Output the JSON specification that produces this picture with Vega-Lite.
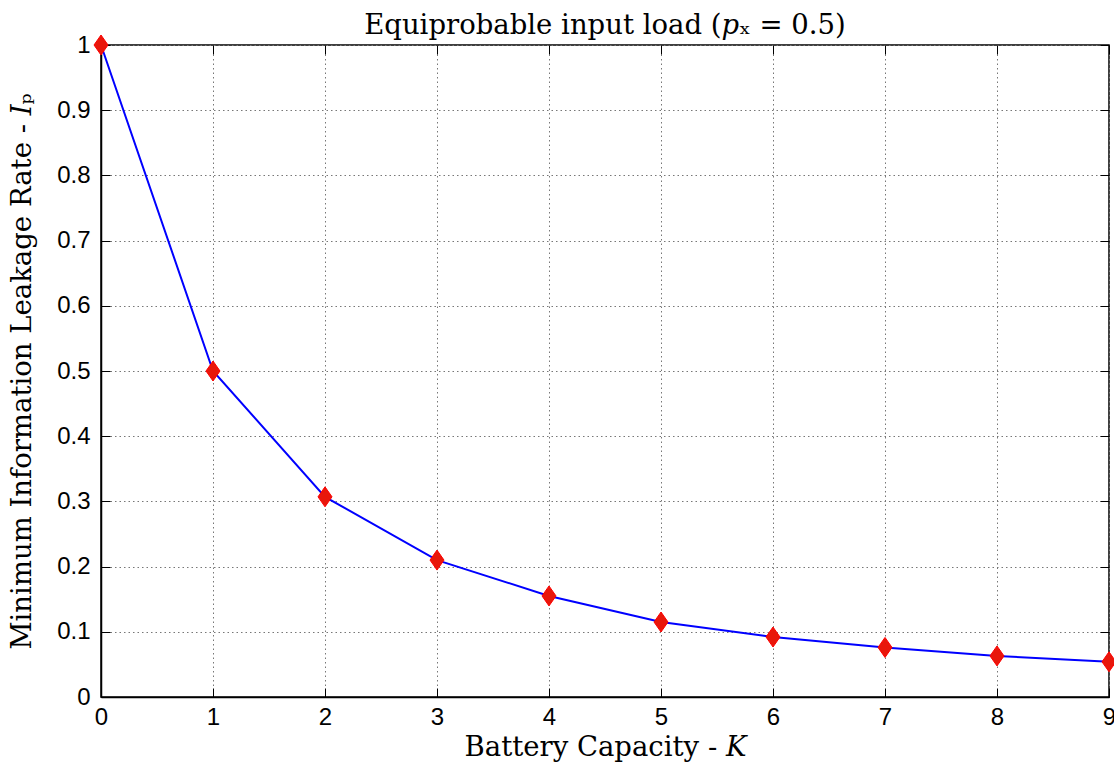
{
  "$schema": "https://vega.github.io/schema/vega-lite/v6.json",
  "autosize": "none",
  "width": 1008,
  "height": 652,
  "padding": {"left": 101, "top": 45, "right": 5, "bottom": 72},
  "background": "white",
  "title": {
    "text": "Equiprobable input load (𝑝ₓ = 0.5)",
    "font": "DejaVu Serif",
    "fontSize": 27.5,
    "fontWeight": "normal",
    "color": "black",
    "offset": -6,
    "anchor": "middle"
  },
  "config": {
    "view": {"stroke": "black", "strokeWidth": 1.5},
    "axis": {
      "labelFont": "Liberation Sans",
      "labelFontSize": 24,
      "labelColor": "black",
      "titleFont": "DejaVu Serif",
      "titleFontSize": 27.5,
      "titleFontWeight": "normal",
      "titleColor": "black",
      "domainColor": "black",
      "domainWidth": 1.5,
      "tickColor": "black",
      "tickWidth": 1,
      "tickSize": -9,
      "gridColor": "#777777",
      "gridDash": [1.5, 3],
      "gridWidth": 1,
      "gridOpacity": 1
    }
  },
  "data": {
    "values": [
      {"K": 0, "I": 1.0},
      {"K": 1, "I": 0.5},
      {"K": 2, "I": 0.307},
      {"K": 3, "I": 0.21},
      {"K": 4, "I": 0.155},
      {"K": 5, "I": 0.115},
      {"K": 6, "I": 0.092},
      {"K": 7, "I": 0.076},
      {"K": 8, "I": 0.063},
      {"K": 9, "I": 0.054}
    ]
  },
  "layer": [
    {
      "mark": {"type": "line", "color": "#0000ff", "strokeWidth": 2},
      "encoding": {
        "x": {
          "field": "K", "type": "quantitative",
          "scale": {"domain": [0, 9], "nice": false, "zero": false},
          "axis": {"orient": "bottom", "title": "Battery Capacity - 𝐾", "values": [0,1,2,3,4,5,6,7,8,9], "format": "d", "labelPadding": 17, "titlePadding": 4, "grid": true, "labelFlush": false}
        },
        "y": {
          "field": "I", "type": "quantitative",
          "scale": {"domain": [0, 1], "nice": false},
          "axis": {"orient": "left", "title": "Minimum Information Leakage Rate - 𝐼ₚ", "values": [0,0.1,0.2,0.3,0.4,0.5,0.6,0.7,0.8,0.9,1], "labelExpr": "datum.value == 0 ? '0' : datum.value == 1 ? '1' : format(datum.value, '.1f')", "labelPadding": 20, "titlePadding": 20, "grid": true, "labelFlush": false}
        }
      }
    },
    {
      "mark": {"type": "point", "shape": "M0,-1L0.7,0L0,1L-0.7,0Z", "filled": true, "fill": "#e8170b", "stroke": "#ff0000", "strokeWidth": 1, "opacity": 1, "size": 400},
      "encoding": {
        "x": {
          "field": "K", "type": "quantitative",
          "axis": {"orient": "top", "title": null, "labels": false, "values": [0,1,2,3,4,5,6,7,8,9], "grid": false, "domain": false}
        },
        "y": {
          "field": "I", "type": "quantitative",
          "axis": {"orient": "right", "title": null, "labels": false, "values": [0,0.1,0.2,0.3,0.4,0.5,0.6,0.7,0.8,0.9,1], "grid": false, "domain": false}
        }
      }
    }
  ],
  "resolve": {"axis": {"x": "independent", "y": "independent"}}
}
